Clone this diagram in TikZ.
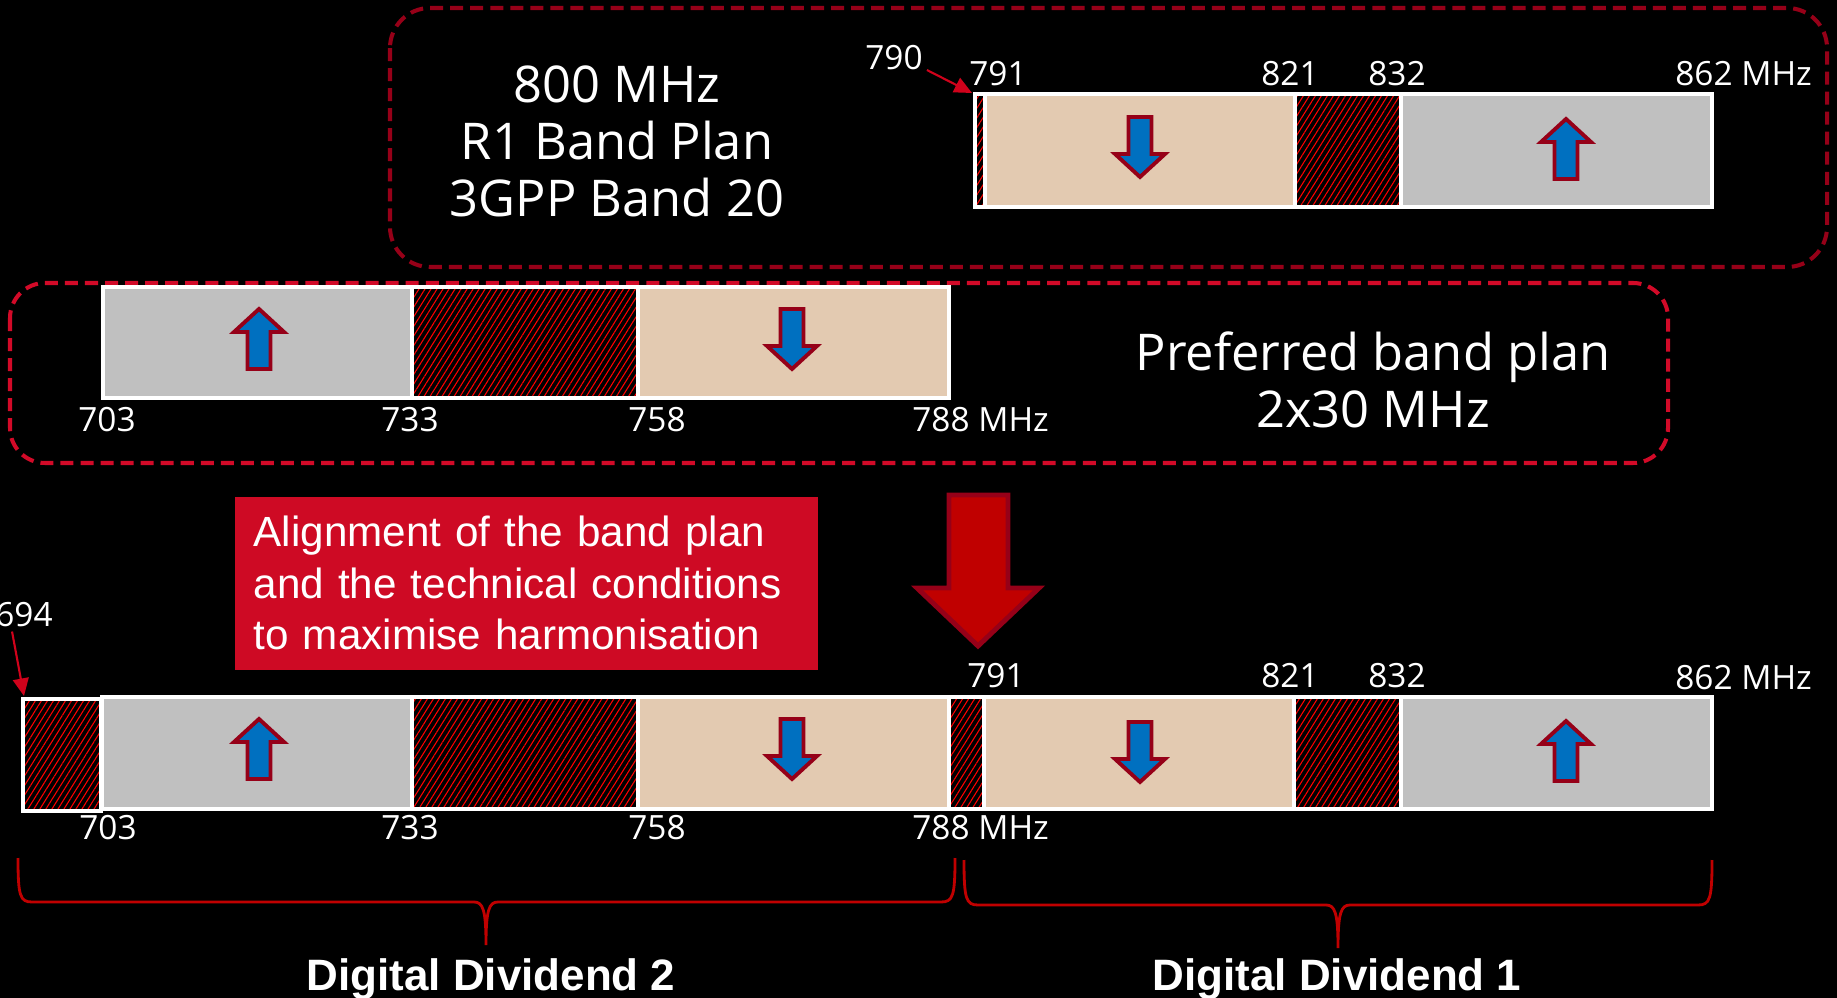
\documentclass[tikz,border=0pt]{standalone}
\usepackage{fontspec}
\setmainfont{Open Sans}
\newfontfamily\arialfont{Liberation Sans}
\usepackage{tikz}
\usetikzlibrary{positioning}
\usetikzlibrary{patterns.meta}
\usetikzlibrary{arrows.meta}

\definecolor{bandgray}{HTML}{C0C0C0}
\definecolor{bandtan}{HTML}{E3CAB1}
\definecolor{arrowblue}{HTML}{0070C0}
\definecolor{darkred}{HTML}{960018}
\definecolor{planred}{HTML}{D20A28}
\definecolor{calloutred}{HTML}{CE0A24}
\definecolor{bigred}{HTML}{C00000}
\definecolor{hatchred}{HTML}{FF0000}
\definecolor{pointred}{HTML}{D0021B}

\tikzset{
  uplink/.style={fill=bandgray, draw=white, line width=0.9pt},
  downlink/.style={fill=bandtan, draw=white, line width=0.9pt},
  guard/.style={draw=white, line width=0.9pt, preaction={fill=black},
    pattern={Lines[angle=58,distance=1.45pt,line width=0.3pt]}, pattern color=hatchred},
  freq/.style={text=white, font=\fontsize{9.5pt}{11pt}\selectfont, inner sep=1pt, anchor=base},
  planbox/.style={line width=1.15pt, dash pattern=on 3.7pt off 2pt},
  plantext/.style={text=white, align=center, font=\fontsize{14.4pt}{16.2pt}\selectfont},
  dirarrow/.style={fill=arrowblue, draw=darkred, line width=1.1pt, line join=miter},
  bigarrow/.style={fill=bigred, draw=darkred, line width=1.4pt, line join=miter},
  pointer/.style={draw=pointred, line width=0.6pt, -{Triangle[length=5pt,width=4.5pt]}},
  bracepath/.style={draw=bigred, line width=0.8pt},
  callout/.style={fill=calloutred, text=white, align=left, text width=5.45cm,
    minimum height=1.73cm, inner xsep=0.19cm,
    font=\arialfont\fontsize{12pt}{14.6pt}\selectfont},
  dividend/.style={text=white, font=\arialfont\bfseries\fontsize{12.5pt}{14pt}\selectfont}
}

\begin{document}
\begin{tikzpicture}[x=0.01cm, y=-0.01cm]
\fill[black] (0,0) rectangle (1837,998);
\useasboundingbox (0,0) rectangle (1837,998);

% dashed frames
\draw[planbox, draw=darkred, rounded corners=0.4cm] (390,8) rectangle (1827,267);
\draw[planbox, draw=planred, rounded corners=0.35cm] (10,283) rectangle (1668,463);

% 800 MHz band plan
\foreach \a/\b/\s in {975/985/guard, 985/1295/downlink, 1295/1401/guard, 1401/1712/uplink}
  \draw[\s] (\a,94) rectangle (\b,207);
% 700 MHz preferred plan
\foreach \a/\b/\s in {103/412/uplink, 412/638/guard, 638/949/downlink}
  \draw[\s] (\a,287) rectangle (\b,398);
% combined plan
\draw[guard] (23,699) rectangle (101,811);
\foreach \a/\b/\s in {102/412/uplink, 412/638/guard, 638/949/downlink, 949/984/guard,
  984/1294/downlink, 1294/1401/guard, 1401/1712/uplink}
  \draw[\s] (\a,697) rectangle (\b,809);

% up / down arrows
\foreach \x/\y/\d in {1140/148/-1, 1566/148/1, 259/338/1, 792/340/-1,
  259/748/1, 792/750/-1, 1140/753/-1, 1566/750/1}
  \draw[dirarrow, shift={(\x,\y)}, yscale=\d] (0,-29) -- (25,-6) -- (11.5,-6) -- (11.5,31)
    -- (-11.5,31) -- (-11.5,-6) -- (-25,-6) -- cycle;

% frequency labels
\foreach \x/\f in {998/791, 1290/821, 1397/832}
  \node[freq] (a\f) at (\x,86) {\f};
\node[freq] (a862) at (1704,86) {862\rlap{ MHz}};
\node[freq] (l790) at (894,70) {790};
\foreach \x/\f in {107/703, 410/733, 657/758}
  \node[freq] (m\f) at (\x,432) {\f};
\node[freq] (m788) at (941,432) {788\rlap{ MHz}};
\foreach \x/\f in {108/703, 410/733, 657/758}
  \node[freq] (b\f) at (\x,840) {\f};
\node[freq] (b788) at (941,840) {788\rlap{ MHz}};
\foreach \x/\f in {996/791, 1290/821, 1397/832}
  \node[freq] (c\f) at (\x,688) {\f};
\node[freq] (c862) at (1704,690) {862\rlap{ MHz}};
\node[freq] (l694) at (24,627) {694};

\coordinate (c790) at (972,93);
\coordinate (c694) at (24,696);
\draw[pointer] (l790.base east) -- (c790);
\draw[pointer] ([xshift=-3.4pt]l694.south) -- (c694);

% titles
\node[plantext] (r1plan) at (617,141) {800 MHz\\R1 Band Plan\\3GPP Band 20};
\node[plantext] (prefplan) at (1373,380) {Preferred band plan\\2x30 MHz};
\node[callout, anchor=north west] (harmon) at (234,496)
  {Alignment of the band plan\\and the technical conditions\\to maximise harmonisation};

% big arrow
\draw[bigarrow] (949,495) -- (1008,495) -- (1008,588) -- (1039,588) -- (978,646)
  -- (917,588) -- (949,588) -- cycle;

% braces
\draw[bracepath] (18,858) .. controls (18,896) and (20,902) .. (32,902) -- (474,902)
  .. controls (483,902) and (486,910) .. (486,945) .. controls (486,910) and (489,902) .. (498,902)
  -- (941,902) .. controls (953,902) and (955,896) .. (955,858);
\draw[bracepath] (964,860) .. controls (964,899) and (966,905) .. (978,905) -- (1326,905)
  .. controls (1335,905) and (1338,913) .. (1338,948) .. controls (1338,913) and (1341,905) .. (1350,905)
  -- (1698,905) .. controls (1710,905) and (1712,899) .. (1712,860);
\node[dividend] (dd2) at (491,979) {Digital Dividend 2};
\node[dividend] (dd1) at (1337,979) {Digital Dividend 1};
\end{tikzpicture}
\end{document}
